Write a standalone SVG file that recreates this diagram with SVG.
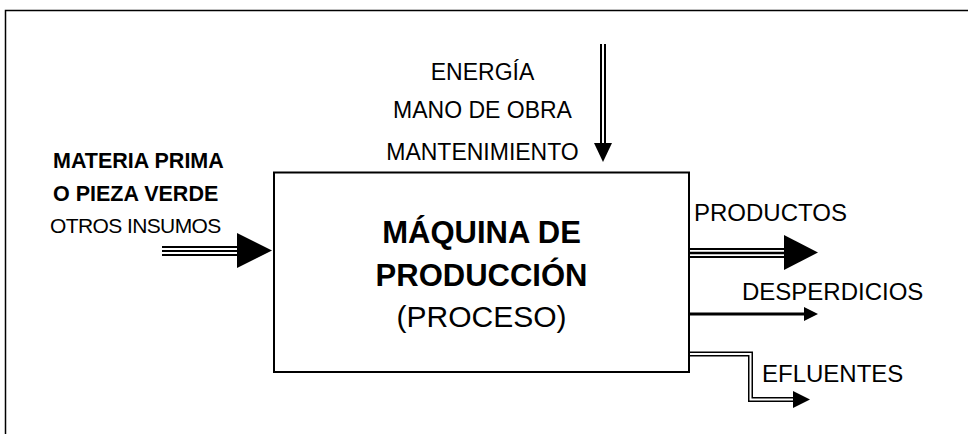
<svg xmlns="http://www.w3.org/2000/svg" width="968" height="434" viewBox="0 0 968 434">
<style>
text{font-family:"Liberation Sans",Arial,sans-serif;fill:#000}
.lbl{font-size:24px}
.top{font-size:23px;text-anchor:middle}
.inb{font-size:21.5px;font-weight:bold}
.inr{font-size:21px;letter-spacing:-0.6px}
.big{font-size:31px;font-weight:bold;text-anchor:middle}
.mid{font-size:30px;text-anchor:middle}
.blk{fill:none;stroke:#000}
.wht{fill:none;stroke:#fff}
.head{fill:#000}
</style>
<rect width="968" height="434" fill="#fff"/>
<g id="frame">
<path d="M5.5,434 V10.5 H968" fill="none" stroke="#000" stroke-width="1.5"/>
</g>
<g id="machine">
<rect x="274" y="172.5" width="415" height="199.5" fill="#fff" stroke="#000" stroke-width="2"/>
<text class="big" x="481.5" y="243">MÁQUINA DE</text>
<text class="big" x="481.5" y="286">PRODUCCIÓN</text>
<text class="mid" x="481.5" y="327">(PROCESO)</text>
</g>
<g id="inputs">
<text class="inb" x="53" y="168">MATERIA PRIMA</text>
<text class="inb" x="53" y="201">O PIEZA VERDE</text>
<text class="inr" x="50" y="233">OTROS INSUMOS</text>
</g>
<g id="resources">
<text class="top" x="482.5" y="80">ENERGÍA</text>
<text class="top" x="482.5" y="118">MANO DE OBRA</text>
<text class="top" x="482.5" y="160">MANTENIMIENTO</text>
</g>
<g id="products"><text class="lbl" x="694" y="221">PRODUCTOS</text></g>
<g id="waste"><text class="lbl" x="742" y="300">DESPERDICIOS</text></g>
<g id="effluents"><text class="lbl" x="762" y="382">EFLUENTES</text></g>
<g id="connectors">
<!-- input triple arrow -->
<path class="blk" d="M162,251 H238" stroke-width="10"/>
<path class="wht" d="M162,251 H238" stroke-width="6"/>
<path class="blk" d="M162,251 H238" stroke-width="2"/>
<polygon class="head" points="237,233 272,250.5 237,268"/>
<!-- top double arrow -->
<path class="blk" d="M603,44 V145" stroke-width="6"/>
<path class="wht" d="M603,44 V145" stroke-width="2"/>
<polygon class="head" points="594,143 612,143 603,162"/>
<!-- products triple arrow -->
<path class="blk" d="M690,253 H785" stroke-width="10"/>
<path class="wht" d="M690,253 H785" stroke-width="6"/>
<path class="blk" d="M690,253 H785" stroke-width="2.4"/>
<polygon class="head" points="784,235 818,252.5 784,270"/>
<!-- waste single arrow -->
<path class="blk" d="M690,314 H805" stroke-width="3"/>
<polygon class="head" points="804,307 818,314 804,321"/>
<!-- effluents double arrow -->
<path class="blk" d="M690,354 H750.5 V399.5 H794" stroke-width="5"/>
<path class="wht" d="M690,354 H750.5 V399.5 H794" stroke-width="2"/>
<polygon class="head" points="793,391 810,399.5 793,408"/>
</g>
</svg>
